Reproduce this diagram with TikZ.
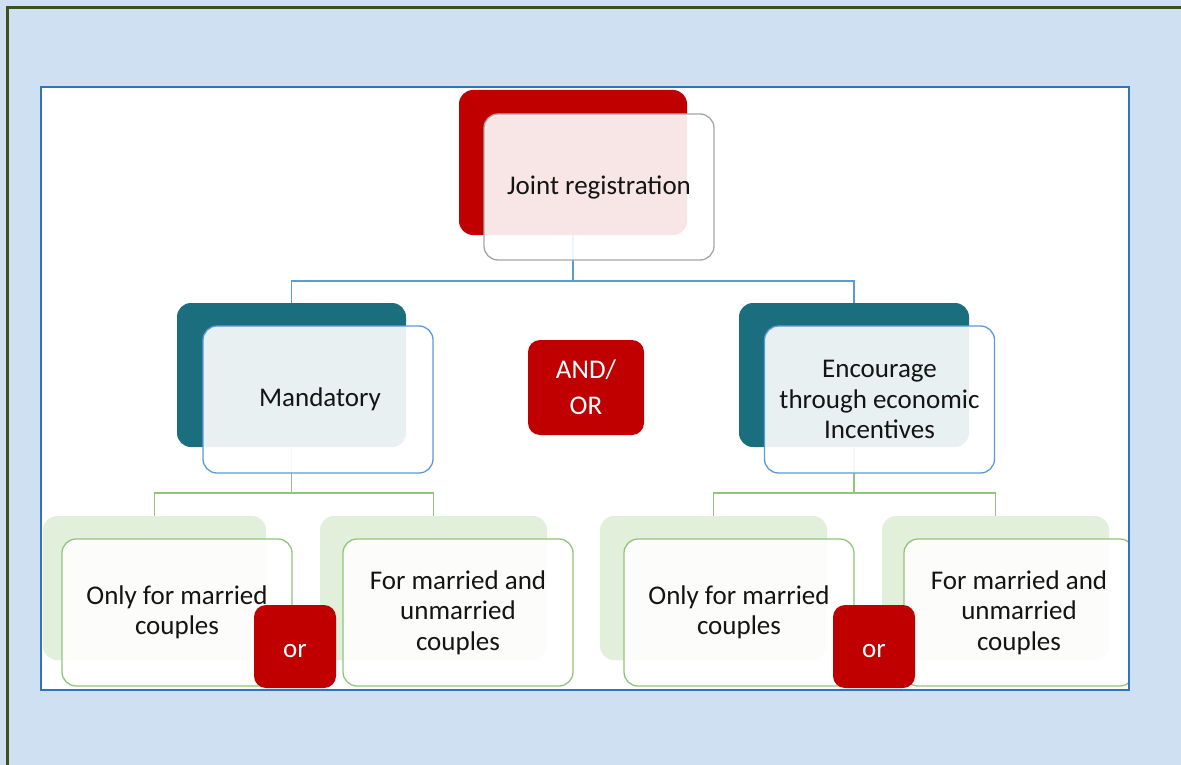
\documentclass[tikz,border=0pt]{standalone}
\usepackage{fontspec}
\setmainfont{Carlito}
\definecolor{bgblue}{HTML}{CFE0F3}
\definecolor{olive}{HTML}{3F5018}
\definecolor{frameblue}{HTML}{2E75C0}
\definecolor{jred}{HTML}{C00000}
\definecolor{jteal}{HTML}{1B6E7D}
\definecolor{jgreenl}{HTML}{E2EFDA}
\definecolor{jgreen}{HTML}{93C47D}
\definecolor{jblue}{HTML}{5B9BD5}
\definecolor{jgray}{HTML}{A6A6A6}
\definecolor{jtext}{HTML}{141414}
\tikzset{
  backbox/.style={rectangle, rounded corners=14pt, draw=none, inner sep=0pt},
  overbox/.style={rectangle, rounded corners=14pt, fill=white, fill opacity=0.9, text opacity=1,
    line width=1.3pt, minimum width=230pt, minimum height=147pt, inner sep=0pt, align=center,
    text=jtext, font=\fontsize{27}{30.5}\selectfont},
  orbox/.style={rectangle, rounded corners=12pt, fill=jred, text=white, inner sep=0pt, align=center,
    font=\fontsize{27}{36}\selectfont},
  link/.style={line width=1.2pt}
}
\begin{document}
\begin{tikzpicture}[x=1pt,y=-1pt]
\useasboundingbox (0,0) rectangle (1181,765);
\fill[bgblue] (0,0) rectangle (1181,765);
\draw[olive, line width=3pt] (7,765) -- (7,8) -- (1181,8);
\fill[white] (41,87) rectangle (1129,690);
\begin{scope}
\clip (41,87) rectangle (1129,690);
% back boxes
\node[backbox, fill=jred, minimum width=228pt, minimum height=145pt] (jrB) at (573,162.5) {};
\node[backbox, fill=jteal, minimum width=229pt, minimum height=144pt] (mlB) at (291.5,375) {};
\node[backbox, fill=jteal, minimum width=230pt, minimum height=144pt] (mrB) at (854,375) {};
\node[backbox, fill=jgreenl, minimum width=223pt, minimum height=144pt] (b1B) at (154.5,588) {};
\node[backbox, fill=jgreenl, minimum width=227pt, minimum height=144pt] (b2B) at (433.5,588) {};
\node[backbox, fill=jgreenl, minimum width=227pt, minimum height=144pt] (b3B) at (713.5,588) {};
\node[backbox, fill=jgreenl, minimum width=227pt, minimum height=144pt] (b4B) at (995.5,588) {};
% connectors
\coordinate (h1) at (0,281);
\coordinate (h2) at (0,493);
\draw[link, jblue] (jrB.south) -- (jrB.south |- h1) -| (mlB.north);
\draw[link, jblue] (jrB.south |- h1) -| (mrB.north);
\draw[link, jgreen] (mlB.south) -- (mlB.south |- h2) -| (b1B.north);
\draw[link, jgreen] (mlB.south |- h2) -| (b2B.north);
\draw[link, jgreen] (mrB.south) -- (mrB.south |- h2) -| (b3B.north);
\draw[link, jgreen] (mrB.south |- h2) -| (b4B.north);
% overlay boxes
\node[overbox, draw=jgray, minimum height=146pt] (jr) at (599,187) {Joint registration};
\node[overbox, draw=jblue] (ml) at (318,399.5) {\hspace*{4pt}Mandatory};
\node[overbox, draw=jblue] (mr) at (879.5,399.5) {Encourage\\through economic\\Incentives};
\node[overbox, draw=jgreen] (b1) at (177,612.5) {Only for married\\couples};
\node[overbox, draw=jgreen] (b2) at (458,612.5) {For married and\\unmarried\\couples};
\node[overbox, draw=jgreen] (b3) at (739,612.5) {Only for married\\couples};
\node[overbox, draw=jgreen] (b4) at (1019,612.5) {For married and\\unmarried\\couples};
% or boxes
\node[orbox, minimum width=116pt, minimum height=95pt] (andor) at (586,387.5) {AND/\\OR};
\node[orbox, minimum width=82pt, minimum height=83pt, text height=25pt, text depth=3pt] (or1) at (295,646.5) {or};
\node[orbox, minimum width=82pt, minimum height=83pt, text height=25pt, text depth=3pt] (or2) at (874,646.5) {or};
\end{scope}
\draw[frameblue, line width=2pt] (41,87) rectangle (1129,690);
\end{tikzpicture}
\end{document}
